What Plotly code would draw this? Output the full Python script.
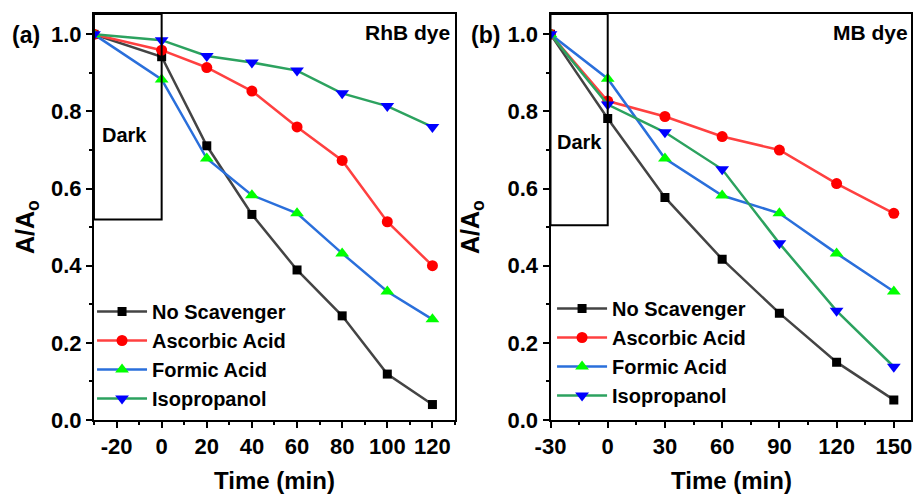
import plotly.graph_objects as go

# ---- data ----
time_rhb = [-30, 0, 20, 40, 60, 80, 100, 120]
rhb_no_scav = [1.0, 0.942, 0.711, 0.533, 0.389, 0.270, 0.119, 0.040]
rhb_ascorbic = [1.0, 0.959, 0.914, 0.853, 0.760, 0.673, 0.514, 0.400]
rhb_formic = [1.0, 0.883, 0.678, 0.583, 0.536, 0.432, 0.333, 0.261]
rhb_isoprop = [1.0, 0.985, 0.944, 0.927, 0.906, 0.847, 0.814, 0.760]

time_mb = [-30, 0, 30, 60, 90, 120, 150]
mb_no_scav = [1.0, 0.782, 0.577, 0.417, 0.277, 0.150, 0.052]
mb_ascorbic = [1.0, 0.827, 0.787, 0.735, 0.700, 0.613, 0.536]
mb_formic = [1.0, 0.885, 0.678, 0.582, 0.536, 0.432, 0.333]
mb_isoprop = [1.0, 0.818, 0.746, 0.650, 0.458, 0.283, 0.138]

xticks_rhb = [-20, 0, 20, 40, 60, 80, 100, 120]
xticklabels_rhb = ["-20", "0", "20", "40", "60", "80", "100", "120"]
xticks_mb = [-30, 0, 30, 60, 90, 120, 150]
xticklabels_mb = ["-30", "0", "30", "60", "90", "120", "150"]

series_names = ["No Scavenger", "Ascorbic Acid", "Formic Acid", "Isopropanol"]
line_colors = ["#444444", "#ff4040", "#2a6fdb", "#2ca25f"]
marker_colors = ["#000000", "#ff0000", "#00ff00", "#0000ff"]
marker_symbols = ["square", "circle", "triangle-up", "triangle-down"]
marker_sizes = [9, 11, 12, 12]

FONT = "Arial, Liberation Sans, sans-serif"

fig = go.Figure()

panels = [
    ("x", "y", "legend", time_rhb, [rhb_no_scav, rhb_ascorbic, rhb_formic, rhb_isoprop]),
    ("x2", "y2", "legend2", time_mb, [mb_no_scav, mb_ascorbic, mb_formic, mb_isoprop]),
]
for xa, ya, lg, t, vals in panels:
    for i, v in enumerate(vals):
        fig.add_trace(go.Scatter(
            x=t, y=v, xaxis=xa, yaxis=ya, legend=lg,
            mode="lines+markers", name=series_names[i],
            line=dict(color=line_colors[i], width=2.5),
            marker=dict(symbol=marker_symbols[i], size=marker_sizes[i],
                        color=marker_colors[i], line=dict(width=0)),
        ))

ymax = 1.053
axis_common = dict(
    showline=True, linecolor="black", linewidth=2, mirror=True,
    ticks="outside", ticklen=6, tickwidth=2, tickcolor="black",
    showgrid=False, zeroline=False, automargin=False,
    tickfont=dict(family=FONT, size=22, color="black", weight="bold"),
)
minor_common = dict(ticks="outside", ticklen=3, tickwidth=2, tickcolor="black")

fig.update_layout(
    width=914, height=497,
    margin=dict(l=0, r=0, t=0, b=0, autoexpand=False),
    paper_bgcolor="white", plot_bgcolor="white",
    showlegend=True,
    xaxis=dict(domain=[0.1028, 0.4978], range=[-30, 130],
               tickmode="array", tickvals=xticks_rhb, ticktext=xticklabels_rhb,
               minor=dict(tickmode="linear", tick0=0, dtick=10, **minor_common),
               anchor="y", **axis_common),
    yaxis=dict(domain=[0.155, 0.972], range=[0, ymax], tick0=0, dtick=0.2, tickformat=".1f",
               minor=dict(dtick=0.1, **minor_common),
               anchor="x", **axis_common),
    xaxis2=dict(domain=[0.6023, 0.9967], range=[-30, 159],
                tickmode="array", tickvals=xticks_mb, ticktext=xticklabels_mb,
                minor=dict(tickmode="linear", tick0=0, dtick=15, **minor_common),
                anchor="y2", **axis_common),
    yaxis2=dict(domain=[0.155, 0.972], range=[0, ymax], tick0=0, dtick=0.2, tickformat=".1f",
                minor=dict(dtick=0.1, **minor_common),
                anchor="x2", **axis_common),
    legend=dict(x=0.1007, y=0.4125, xanchor="left", yanchor="top",
                bgcolor="rgba(0,0,0,0)", borderwidth=0, itemwidth=50,
                tracegroupgap=0,
                font=dict(family=FONT, size=20, color="black", weight="bold")),
    legend2=dict(x=0.604, y=0.4185, xanchor="left", yanchor="top",
                 bgcolor="rgba(0,0,0,0)", borderwidth=0, itemwidth=50,
                 tracegroupgap=0,
                 font=dict(family=FONT, size=20, color="black", weight="bold")),
)

# Dark boxes
fig.add_shape(type="rect", xref="x", yref="y", x0=-30, x1=0, y0=0.52, y1=ymax,
              line=dict(color="black", width=2), fillcolor="rgba(0,0,0,0)")
fig.add_shape(type="rect", xref="x2", yref="y2", x0=-30, x1=0, y0=0.505, y1=ymax,
              line=dict(color="black", width=2), fillcolor="rgba(0,0,0,0)")

def ann(text, x, y, size, xanchor="center", angle=0, xref="paper", yref="paper", yanchor="middle"):
    fig.add_annotation(text=text, x=x, y=y, xref=xref, yref=yref, showarrow=False,
                       xanchor=xanchor, yanchor=yanchor, textangle=angle,
                       font=dict(family=FONT, size=size, color="black", weight="bold"))

W, H = 914, 497
ann("Dark", -16.5, 0.74, 20, xref="x", yref="y")
ann("Dark", -15, 0.72, 20, xref="x2", yref="y2")
ann("RhB dye", 452 / W, 1 - 33 / H, 21, xanchor="right")
ann("MB dye", 910 / W, 1 - 33 / H, 21, xanchor="right")
ann("(a)", 26 / W, 1 - 35 / H, 23)
ann("(b)", 485 / W, 1 - 35 / H, 23)
ann("A/A<sub>o</sub>", 27 / W, 1 - 227 / H, 25, angle=-90)
ann("A/A<sub>o</sub>", 472 / W, 1 - 227 / H, 25, angle=-90)
ann("Time (min)", 274 / W, 0.002, 24, yanchor="bottom")
ann("Time (min)", 731 / W, 0.002, 24, yanchor="bottom")

fig.write_html("out.html")
